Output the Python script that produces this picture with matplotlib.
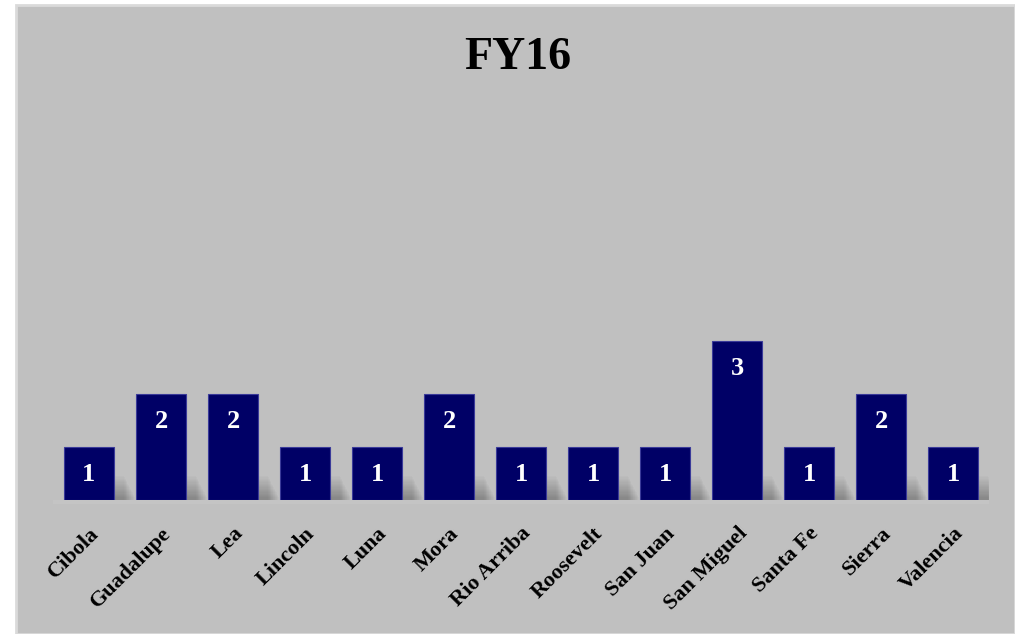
import matplotlib.pyplot as plt
from matplotlib.patches import Rectangle

counties = ["Cibola", "Guadalupe", "Lea", "Lincoln", "Luna", "Mora", "Rio Arriba",
            "Roosevelt", "San Juan", "San Miguel", "Santa Fe", "Sierra", "Valencia"]
counts = [1, 2, 2, 1, 1, 2, 1, 1, 1, 3, 1, 2, 1]
title = "FY16"

bg = "#c0c0c0"
navy = "#000066"
plt.rcParams['font.family'] = ['Liberation Serif', 'DejaVu Serif']

fig = plt.figure(figsize=(10.15, 6.34), dpi=100)
fig.patch.set_facecolor("white")
# grey panel with light border
fig.patches.append(Rectangle((16 / 1015, 0), 999 / 1015, 629 / 634, transform=fig.transFigure,
                             facecolor=bg, edgecolor="#dadada", linewidth=2, zorder=-5))

ax = fig.add_axes([53 / 1015, 134 / 634, 936 / 1015, 370 / 634])
ax.set_zorder(2)
ax.set_facecolor("none")
x = list(range(len(counties)))
width = 0.7

# soft blurred shadow at the base of each bar
n_layers = 18
for xi, v in zip(x, counts):
    for k in range(n_layers):
        f = k / (n_layers - 1)
        ax.add_patch(Rectangle((xi - width / 2 + 0.1 - 0.05 * f, 0), width + 0.04 + 0.2 * f,
                               0.45 - 0.4 * f, facecolor="black", edgecolor="none",
                               alpha=0.016, zorder=1))
# faint floor strip
ax.add_patch(Rectangle((-0.5, -0.08), len(counties), 0.08, facecolor="#c4c4c4",
                       edgecolor="none", zorder=0.5, clip_on=False))

bars = ax.bar(x, counts, width=width, color=navy, edgecolor="#3a3a99", linewidth=0.8, zorder=3)
for xi, v in zip(x, counts):
    ax.text(xi, v - 0.52, str(v), ha="center", va="center", color="white",
            fontsize=19, fontweight="bold", zorder=4)

ax.set_xlim(-0.5, len(counties) - 0.5)
ax.set_ylim(0, 7)
ax.set_yticks([])
ax.set_xticks(x)
ax.set_xticklabels(counties, rotation=45, ha="right", rotation_mode="anchor",
                   fontsize=16, fontweight="bold")
ax.tick_params(axis="x", length=0, pad=17)
for s in ax.spines.values():
    s.set_visible(False)

fig.text(518 / 1015, 1 - 58 / 634, title, ha="center", va="center",
         fontsize=33, fontweight="bold")

fig.savefig("out.png", dpi=100)
